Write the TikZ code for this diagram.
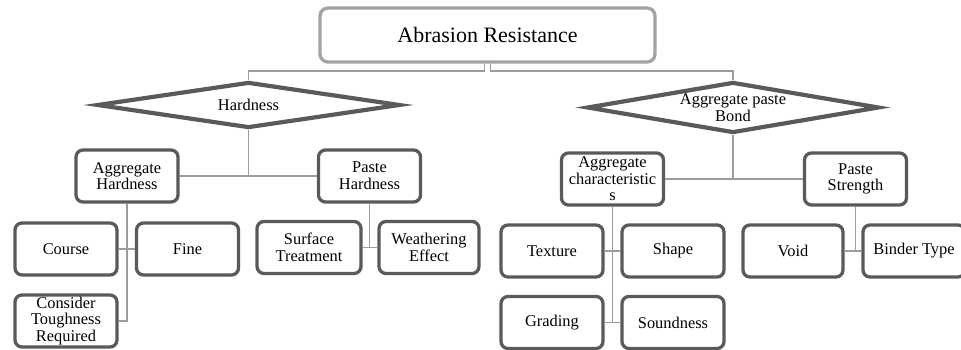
\documentclass[tikz,border=0pt]{standalone}
\usepackage{fontspec}
\setmainfont{Liberation Serif}
\usetikzlibrary{shapes.geometric}
\definecolor{boxgray}{HTML}{5A5A5A}
\definecolor{topgray}{HTML}{A3A3A3}
\definecolor{linegray}{HTML}{9C9C9C}
\begin{document}
\begin{tikzpicture}[x=1pt,y=-1pt,
    box/.style={draw=boxgray, line width=3.3, rounded corners=7, fill=white, minimum width=102, minimum height=52, inner sep=0, align=center, font=\fontsize{16.4}{16.6}\selectfont},
    topbox/.style={draw=topgray, line width=3.3, rounded corners=8, fill=white, minimum width=335, minimum height=54, inner sep=0, font=\fontsize{22}{26}\selectfont},
    dia/.style={draw=boxgray, line width=4.2, diamond, fill=white, inner sep=0},
    diatext/.style={inner sep=0, align=center, font=\fontsize{16.4}{16.6}\selectfont},
    conn/.style={draw=linegray, line width=1.6}]
    \useasboundingbox (0,0) rectangle (961,350);

    \node[topbox] (top) at (487.5,35) {Abrasion Resistance};

    \node[dia, minimum width=303, minimum height=46] (hard) at (248.5,105) {};
    \node[diatext] (hardlbl) at (hard) {Hardness};
    \node[dia, minimum width=292, minimum height=51] (bond) at (733,107.5) {};
    \node[diatext] (bondlbl) at (bond) {Aggregate paste\\Bond};

    \node[box] (aggh) at (127,176) {Aggregate\\Hardness};
    \node[box] (pasteh) at (369.5,176) {Paste\\Hardness};
    \node[box] (course) at (66,249) {Course};
    \node[box] (fine) at (187.5,249) {Fine};
    \node[box] (tough) at (66,321) {Consider\\Toughness\\Required};
    \node[box, minimum width=104] (surf) at (309,247.5) {Surface\\Treatment};
    \node[box, minimum width=100] (weath) at (429,247.5) {Weathering\\Effect};

    \node[box] (aggc) at (612.5,179) {Aggregate\\characteristic\\s};
    \node[box] (pstr) at (855.5,179) {Paste\\Strength};
    \node[box] (texture) at (552,251) {Texture};
    \node[box] (shp) at (673,251) {Shape};
    \node[box] (grading) at (552,322.5) {Grading};
    \node[box] (sound) at (673,322.5) {Soundness};
    \node[box, minimum width=100] (void) at (793,251) {Void};
    \node[box] (binder) at (914,251) {Binder Type};

    \draw[conn] ([xshift=-3]top.south) -- ++(0,7.5) -| (hard.north);
    \draw[conn] ([xshift=3]top.south) -- ++(0,7.5) -| (bond.north);
    \draw[conn] (aggh.east) -- (pasteh.west);
    \draw[conn] (hard.south) -- (hard.south |- aggh.east);
    \draw[conn] (aggh.south) |- (tough.east);
    \draw[conn] (course.east) -- (fine.west);
    \draw[conn] (pasteh.south) -- (pasteh.south |- surf.east);
    \draw[conn] (surf.east) -- (weath.west);
    \draw[conn] (aggc.east) -- (pstr.west);
    \draw[conn] (bond.south) -- (bond.south |- aggc.east);
    \draw[conn] (aggc.south) -- (aggc.south |- grading.east);
    \draw[conn] (texture.east) -- (shp.west);
    \draw[conn] (grading.east) -- (sound.west);
    \draw[conn] (pstr.south) -- (pstr.south |- void.east);
    \draw[conn] (void.east) -- (binder.west);
\end{tikzpicture}
\end{document}
